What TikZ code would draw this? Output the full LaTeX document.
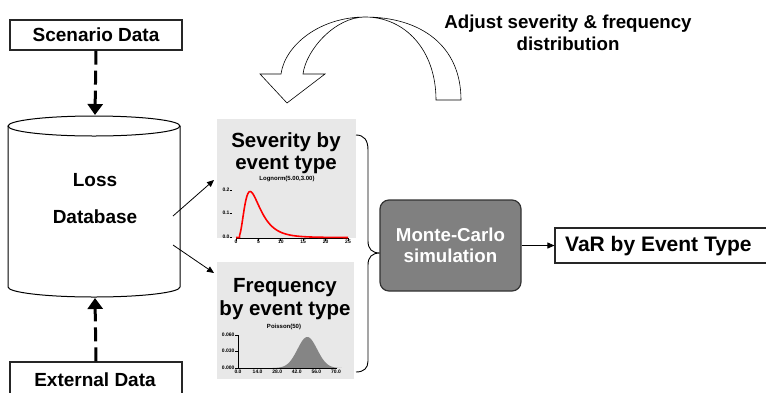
\documentclass[tikz,border=0pt]{standalone}
\usepackage{fontspec}
\setmainfont{Liberation Sans}
\usetikzlibrary{arrows.meta}
\begin{document}
\begin{tikzpicture}[x=1pt,y=-1pt,
  box/.style={draw=black!85, line width=1.1pt, fill=white, inner sep=0pt},
  lbl/.style={font=\fontsize{19}{22}\selectfont\bfseries, align=center, inner sep=0pt},
  big/.style={font=\fontsize{20.5}{22.5}\selectfont\bfseries, align=center, inner sep=0pt},
  panel/.style={fill=black!9, draw=none, inner sep=0pt},
  dasharrow/.style={line width=3pt, dash pattern=on 14pt off 6pt, -{Triangle[width=15pt,length=11pt]}},
  thinarrow/.style={line width=0.8pt, -{Triangle[width=6pt,length=7pt]}},
  tiny/.style={font=\fontsize{5}{5}\selectfont\bfseries, inner sep=0.3pt},
  axisline/.style={line width=0.8pt, black},
]
\useasboundingbox (0,0) rectangle (766,392);

% data sources
\node[box, lbl, minimum width=172pt, minimum height=30pt] (scen) at (96,35) {Scenario Data};
\node[box, lbl, minimum width=172pt, minimum height=40pt] (ext) at (96,382) {};
\node[lbl] (exttxt) at (95,380) {External Data};

% loss database cylinder
\draw[line width=1pt, fill=white] (8,126) -- (8,287)
  .. controls (8,292.5) and (46.5,297) .. (94,297)
  .. controls (141.5,297) and (180,292.5) .. (180,287) -- (180,126);
\draw[line width=1pt, fill=white] (94,126) ellipse [x radius=86, y radius=10];
\node[lbl] (loss) at (95,180) {Loss};
\node[lbl] (dbase) at (95,217) {Database};
\coordinate (dbtop) at (95,115);
\coordinate (dbbot) at (95,298);
\coordinate (dbout1) at (173,216);
\coordinate (dbout2) at (173,245);

\draw[dasharrow] (scen.south) -- (dbtop);
\draw[dasharrow] (ext.north) -- (dbbot);

% severity panel
\node[panel, minimum width=139pt, minimum height=119pt] (sevpanel) at (286.5,178.5) {};
\node[big] (sevtxt) at (286,153) {Severity by\\event type};
\node[tiny, font=\fontsize{6}{6}\selectfont\bfseries] (sevtitle) at (287,179) {Lognorm(5.00,3.00)};
\draw[axisline] (236,238) -- (348,238);
\foreach \v [count=\i from 0] in {0,5,10,15,20,25} {
  \draw[axisline] ({236+22.4*\i},238) -- ({236+22.4*\i},240.5);
  \node[tiny, anchor=north] (sevx\i) at ({236+22.4*\i},240) {\v};
}
\foreach \v/\yy [count=\i] in {0.2/190,0.1/213,0.0/237} {
  \node[tiny, anchor=east] (sevy\i) at (230,\yy) {\v};
  \draw[axisline] (229.5,\yy) -- (232,\yy);
}
\draw[red, line width=1.6pt, line join=round] (236,237.5) -- (239.6,237.5)
  -- plot[domain=0.8:25, samples=120]
  ({236+4.48*\x},{237.5-235*exp(-((ln(\x)-1.455)^2)/0.615)/(\x*1.3899)});

% frequency panel
\node[panel, minimum width=137pt, minimum height=117pt] (freqpanel) at (285.5,320.5) {};
\node[big] (freqtxt) at (285,299) {Frequency\\by event type};
\node[tiny, font=\fontsize{6}{6}\selectfont\bfseries] (freqtitle) at (284,327) {Poisson(50)};
\fill[black!48] plot[domain=25:75, samples=80]
  ({238+1.386*\x},{368-550*0.0564*exp(-((\x-50)^2)/100)}) -- cycle;
\draw[axisline] (238,335) -- (238,368) -- (337,368);
\foreach \v [count=\i from 0] in {0.0,14.0,28.0,42.0,56.0,70.0} {
  \node[tiny, anchor=north] (freqx\i) at ({238+19.6*\i},369) {\v};
}
\foreach \v/\yy [count=\i] in {0.060/335,0.030/351,0.000/368} {
  \node[tiny, anchor=east] (freqy\i) at (235,\yy) {\v};
  \draw[axisline] (235,\yy) -- (238,\yy);
}

% links from the database to the panels
\coordinate (sevin) at (214,180);
\coordinate (freqin) at (214,273);
\draw[thinarrow] (dbout1) -- (sevin);
\draw[thinarrow] (dbout2) -- (freqin);

% brace gathering both panels
\coordinate (bracetip) at (380,253);
\draw[line width=0.9pt] (356,135) .. controls (364,135) and (368,140) .. (368,150)
  -- (368,241) .. controls (368,249) and (372,253) .. (bracetip)
  .. controls (372,253) and (368,257) .. (368,265)
  -- (368,361) .. controls (368,368) and (364,372) .. (356,372);

% simulation and result
\node[draw=black!80, line width=1.2pt, fill=black!50, rounded corners=9pt,
  minimum width=141pt, minimum height=91pt, inner sep=0pt,
  font=\fontsize{18.7}{21}\selectfont\bfseries, text=white, align=center]
  (mc) at (450.5,245.5) {Monte-Carlo\\simulation};
\node[box, minimum width=216pt, minimum height=35pt] (var) at (663,245.5) {};
\node[big, font=\fontsize{21}{23}\selectfont\bfseries, anchor=west] (vartxt) at (565,246) {VaR by Event Type};
\draw[thinarrow] (mc.east) -- (var.west);

% feedback arrow
\draw[line width=0.6pt, fill=white, line join=miter]
  (436,100) -- (461,100)
  .. controls (461,45) and (420,17) .. (365,17)
  .. controls (335,17) and (306,50) .. (303,74)
  -- (325,74) -- (287,103) -- (260,74) -- (281,74)
  .. controls (285,45) and (320,17) .. (365,17)
  .. controls (405,17) and (436,50) .. (436,100) -- cycle;
\node[lbl, font=\fontsize{18.7}{22}\selectfont\bfseries] (adjust) at (568,33)
  {Adjust severity \& frequency\\distribution};
\end{tikzpicture}
\end{document}
